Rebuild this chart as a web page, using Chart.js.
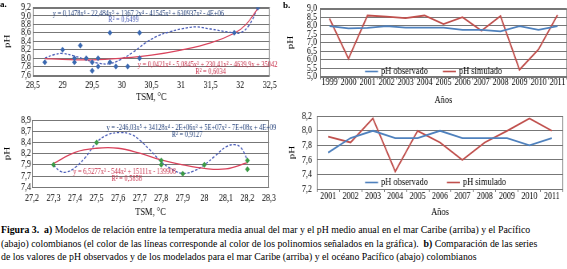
<!DOCTYPE html>
<html>
<head>
<meta charset="utf-8">
<script src="https://cdn.jsdelivr.net/npm/chart.js@4.4.0/dist/chart.umd.min.js"></script>
<style>
body { margin: 0; background: #fff; width: 567px; height: 269px; overflow: hidden; position: relative; font-family: "Liberation Serif", serif; }
.box { position: absolute; transform-origin: 0 0; }
canvas { display: block; }
.tag { position: absolute; font-weight: bold; font-size: 9px; }
#cap { position: absolute; left: 1px; top: 223px; font-size: 9.8px; line-height: 13.5px; white-space: nowrap; color: #000; }
</style>
</head>
<body>
<div class="box" id="b1" style="left:0;top:0"><canvas id="c1"></canvas></div>
<div class="box" id="b2" style="left:280px;top:0"><canvas id="c2"></canvas></div>
<div class="box" id="b3" style="left:0;top:105px"><canvas id="c3"></canvas></div>
<div class="box" id="b4" style="left:280px;top:105px"><canvas id="c4"></canvas></div>
<div class="tag" style="left:0;top:-1px">a.</div>
<div class="tag" style="left:283px;top:0">b.</div>
<div id="cap"><b>Figura 3.</b>&nbsp; <b>a)</b> Modelos de relación entre la temperatura media anual del mar y el pH medio anual en el mar Caribe (arriba) y el Pacífico<br>(abajo) colombianos (el color de las líneas corresponde al color de los polinomios señalados en la gráfica).&nbsp; <b>b)</b> Comparación de las series<br>de los valores de pH observados y de los modelados para el mar Caribe (arriba) y el océano Pacífico (abajo) colombianos</div>

<script>
// Caribe: TSM vs pH (scatter) and the two fitted curves
var caribeTsm = [28.7, 29.0, 29.2, 29.2, 29.3, 29.4, 29.5, 29.5, 29.6, 29.6, 29.8, 29.8, 29.9, 30.1, 30.3, 30.3, 31.9, 32.3];
var caribePh  = [7.9, 8.2, 7.9, 8.0, 8.3, 8.0, 7.9, 7.7, 8.0, 7.8, 8.6, 7.9, 7.8, 7.8, 8.6, 8.0, 8.6, 9.2];
var caribePoly4X = [28.7, 29.0, 29.5, 30.0, 30.5, 31.0, 31.5, 31.9, 32.1, 32.3];
var caribePoly4Y = [7.99, 7.97, 7.96, 8.0, 8.07, 8.19, 8.36, 8.59, 8.8, 9.18];
var caribePoly6X = [28.7, 28.85, 29.0, 29.2, 29.4, 29.6, 29.8, 30.0, 30.2, 30.4, 30.6, 30.8, 31.0, 31.25, 31.5, 31.8, 32.0, 32.15, 32.3];
var caribePoly6Y = [8.0, 8.08, 8.11, 8.05, 7.96, 7.88, 7.87, 7.98, 8.15, 8.36, 8.52, 8.62, 8.69, 8.74, 8.69, 8.62, 8.6, 8.78, 9.2];

// Pacifico
var pacTsm = [27.3, 27.5, 27.8, 27.8, 27.9, 28.0, 28.2, 28.2];
var pacPh  = [7.9, 8.4, 8.0, 7.9, 7.7, 7.9, 8.0, 7.8];
var pacPoly3X = [27.3, 27.4, 27.5, 27.6, 27.7, 27.8, 27.9, 28.0, 28.1, 28.2];
var pacPoly3Y = [7.93, 8.18, 8.27, 8.27, 8.16, 8.01, 7.9, 7.82, 7.81, 7.95];
var pacPoly5X = [27.3, 27.33, 27.36, 27.4, 27.45, 27.5, 27.55, 27.61, 27.66, 27.7, 27.75, 27.8, 27.85, 27.9, 27.95, 28.0, 28.05, 28.1, 28.14, 28.17, 28.2];
var pacPoly5Y = [7.9, 7.76, 7.74, 7.84, 8.08, 8.4, 8.57, 8.62, 8.58, 8.45, 8.22, 7.97, 7.8, 7.71, 7.76, 7.9, 8.1, 8.3, 8.35, 8.28, 8.01];
var pacYTicks  = [7.4, 7.65, 7.9, 8.15, 8.4, 8.65, 8.9];
var pacYLabels = ['7,4', '7,7', '7,9', '8,2', '8,4', '8,7', '8,9'];

// b) series observed / simulated
var caribeYears = ['1999', '2000', '2001', '2002', '2003', '2004', '2005', '2006', '2007', '2008', '2009', '2010', '2011'];
var caribeObs = [7.97, 7.84, 7.87, 7.97, 7.88, 7.88, 7.88, 7.75, 7.75, 7.66, 7.97, 7.75, 7.97];
var caribeSim = [8.42, 6.05, 8.6, 8.53, 8.45, 8.6, 8.1, 8.5, 7.7, 8.57, 5.4, 6.6, 8.63];
var pacYears = ['2001', '2002', '2003', '2004', '2005', '2006', '2007', '2008', '2009', '2010', '2011'];
var pacObs = [7.7, 7.9, 8.0, 7.9, 7.9, 8.0, 7.9, 7.9, 7.9, 7.8, 7.9];
var pacSim = [7.92, 7.84, 8.17, 7.44, 8.0, 7.84, 7.6, 7.84, 8.0, 8.17, 8.0];

Chart.defaults.font.family = '"Liberation Serif", "Times New Roman", serif';
Chart.defaults.font.size = 10;
Chart.defaults.color = '#000';
Chart.defaults.animation = false;

// the printed figure is squeezed sideways: draw wider, then scale the box back
var SQ = 0.8;
var GRID = '#777777';
var BLUE = '#4f81bd', RED = '#c0504d';

function xy(xs, ys) { return xs.map(function (x, i) { return { x: x, y: ys[i] }; }); }
function comma(v) { return String(Math.round(v * 100) / 100).replace('.', ','); }

function setup(id, f) {
  var cv = document.getElementById('c' + id);
  cv.width = Math.round(f.w / SQ);
  cv.height = f.h;
  document.getElementById('b' + id).style.transform = 'scaleX(' + SQ + ')';
  return {
    cv: cv,
    padding: { left: 0, top: f.top, right: cv.width - f.right / SQ, bottom: 0 },
    yWidth: f.left / SQ
  };
}

// border round the plot area
var boxPlugin = {
  id: 'plotBox',
  beforeDatasetsDraw: function (chart) {
    var a = chart.chartArea, ctx = chart.ctx;
    ctx.save();
    ctx.strokeStyle = GRID;
    ctx.lineWidth = 1;
    ctx.strokeRect(Math.round(a.left) + 0.5, Math.round(a.top) + 0.5, Math.round(a.right - a.left) - 1, Math.round(a.bottom - a.top));
    ctx.restore();
  }
};

// equations written on the scatter plots
var notesPlugin = {
  id: 'notes',
  afterDraw: function (chart, args, o) {
    if (!o.items) return;
    var ctx = chart.ctx, sx = chart.scales.x, sy = chart.scales.y;
    ctx.save();
    ctx.font = '8px "Liberation Serif"';
    ctx.textAlign = 'center';
    ctx.textBaseline = 'middle';
    o.items.forEach(function (n) {
      ctx.fillStyle = n.color;
      ctx.fillText(n.text, sx.getPixelForValue(n.x), sy.getPixelForValue(n.y));
    });
    ctx.restore();
  }
};

// legend drawn inside the plot, like the Excel one
var legendPlugin = {
  id: 'inLegend',
  afterDraw: function (chart, args, o) {
    if (!o.at) return;
    var ctx = chart.ctx, sx = chart.scales.x, sy = chart.scales.y;
    var y = Math.round(sy.getPixelForValue(o.y)) + 0.5;
    ctx.save();
    ctx.font = '10.5px "Liberation Serif"';
    ctx.textBaseline = 'middle';
    chart.data.datasets.forEach(function (d, i) {
      var x0 = sx.getPixelForValue(o.at[i]);
      ctx.strokeStyle = d.borderColor;
      ctx.lineWidth = 1.6;
      ctx.beginPath(); ctx.moveTo(x0, y); ctx.lineTo(x0 + 13 / SQ, y); ctx.stroke();
      ctx.fillStyle = '#000';
      ctx.fillText(d.label, x0 + 16 / SQ, y);
    });
    ctx.restore();
  }
};

Chart.register(boxPlugin, notesPlugin, legendPlugin);

function yTitle(pad) { return { display: true, text: 'pH', font: { size: 11 }, padding: { top: pad / SQ, bottom: 0 } }; }
function xTitle(text, pad) { return { display: true, text: text, font: { size: 10.5 }, padding: { top: 0, bottom: pad } }; }
function yTickLabel(v) { return v.toFixed(1).replace('.', ','); }

function scatterChart(id, f, pts, fit1, fit2, color, xr, yr, notes) {
  var s = setup(id, f);
  var yTicks = { padding: f.yPad / SQ, autoSkip: false, font: { size: 10, lineHeight: 1 } };
  if (yr[3]) {
    yTicks.callback = function (v, i) { return yr[4][i]; };
  } else {
    yTicks.stepSize = yr[2];
    yTicks.callback = yTickLabel;
  }
  return new Chart(s.cv, {
    type: 'scatter',
    data: {
      datasets: [
        { data: pts, pointStyle: 'rectRot', pointRadius: 3, pointBackgroundColor: color, pointBorderColor: color, borderWidth: 0, order: 0 },
        { type: 'line', data: fit1, showLine: true, borderColor: '#d9435c', borderWidth: 1.3, pointRadius: 0, tension: 0.4, fill: false, order: 1 },
        { type: 'line', data: fit2, showLine: true, borderColor: '#4a5db8', borderWidth: 1.3, borderDash: [3, 2], pointRadius: 0, tension: 0.4, fill: false, order: 2 }
      ]
    },
    options: {
      responsive: false,
      layout: { padding: s.padding },
      plugins: { legend: { display: false }, tooltip: { enabled: false }, notes: { items: notes } },
      scales: {
        x: {
          type: 'linear', min: xr[0], max: xr[1],
          ticks: { stepSize: xr[2], padding: f.xPad, callback: comma, autoSkip: false, maxRotation: 0 },
          grid: { drawOnChartArea: false, drawTicks: false },
          border: { display: false },
          title: xTitle('TSM, °C', f.xTitlePad),
          afterFit: function (sc) { sc.height = f.h - f.bottom; }
        },
        y: {
          min: yr[0], max: yr[1],
          ticks: yTicks,
          afterBuildTicks: yr[3] ? function (sc) { sc.ticks = yr[3].map(function (v) { return { value: v }; }); } : undefined,
          grid: { color: GRID, drawTicks: false },
          border: { display: false },
          title: yTitle(f.yTitlePad),
          afterFit: function (sc) { sc.width = s.yWidth; }
        }
      }
    }
  });
}

function lineChart(id, f, years, obs, sim, yr, leg) {
  var s = setup(id, f);
  return new Chart(s.cv, {
    type: 'line',
    data: {
      labels: years,
      datasets: [
        { label: 'pH observado', data: obs, borderColor: BLUE, borderWidth: 1.8, pointRadius: 0, tension: 0 },
        { label: 'pH simulado', data: sim, borderColor: RED, borderWidth: 1.8, pointRadius: 0, tension: 0 }
      ]
    },
    options: {
      responsive: false,
      layout: { padding: s.padding },
      plugins: { legend: { display: false }, tooltip: { enabled: false }, inLegend: leg },
      scales: {
        x: {
          offset: true,
          ticks: { padding: f.xPad, autoSkip: false, maxRotation: 0 },
          grid: { offset: true, drawOnChartArea: false, tickLength: 3, color: GRID },
          border: { display: false },
          title: xTitle('Años', f.xTitlePad),
          afterFit: function (sc) { sc.height = f.h - f.bottom; }
        },
        y: {
          min: yr[0], max: yr[1],
          ticks: { stepSize: yr[2], padding: f.yPad / SQ, autoSkip: false, font: { size: 10, lineHeight: 1 }, callback: yTickLabel },
          grid: { color: GRID, drawTicks: false },
          border: { display: false },
          title: yTitle(f.yTitlePad),
          afterFit: function (sc) { sc.width = s.yWidth; }
        }
      }
    }
  });
}

scatterChart(1,
  { w: 280, h: 105, left: 33, top: 7, right: 273, bottom: 75, xPad: 4, yPad: 2, xTitlePad: 1, yTitlePad: 2 },
  xy(caribeTsm, caribePh), xy(caribePoly4X, caribePoly4Y), xy(caribePoly6X, caribePoly6Y),
  '#3a68b0', [28.5, 32.5, 0.5], [7.6, 9.2, 0.2],
  [
    { text: 'y = 0,1478x⁶ - 22,484x⁵ + 1367,2x⁴ - 41545x³ + 630937x² - 4E+06', x: 30.28, y: 9.06, color: '#23407a' },
    { text: 'R² = 0,6499', x: 30.03, y: 8.91, color: '#4a5db8' },
    { text: 'y = 0,0421x⁴ - 5,0845x³ + 230,41x² - 4639,9x + 35042', x: 31.45, y: 7.85, color: '#c8304a' },
    { text: 'R² = 0,6034', x: 31.5, y: 7.68, color: '#c8304a' }
  ]);

lineChart(2,
  { w: 287, h: 105, left: 40, top: 6, right: 287, bottom: 76.5, xPad: -3, yPad: 3, xTitlePad: -2, yTitlePad: 5 },
  caribeYears, caribeObs, caribeSim, [5.0, 9.0, 0.5], { at: [1.87, 5.97], y: 5.34 });

scatterChart(3,
  { w: 280, h: 115, left: 32, top: 15, right: 275, bottom: 82.3, xPad: 5, yPad: 1, xTitlePad: 1, yTitlePad: 2 },
  xy(pacTsm, pacPh), xy(pacPoly3X, pacPoly3Y), xy(pacPoly5X, pacPoly5Y),
  '#3c9a46', [27.2, 28.3, 0.1], [7.4, 8.9, 0.25, pacYTicks, pacYLabels],
  [
    { text: 'y = -246,03x⁵ + 34128x⁴ - 2E+06x³ + 5E+07x² - 7E+08x + 4E+09', x: 27.94, y: 8.72, color: '#23407a' },
    { text: 'R² = 0,9127', x: 27.92, y: 8.57, color: '#23407a' },
    { text: 'y = 6,5277x³ - 544x² + 15111x - 139908', x: 27.63, y: 7.74, color: '#c8304a' },
    { text: 'R² = 0,5858', x: 27.64, y: 7.59, color: '#c8304a' }
  ]);

lineChart(4,
  { w: 287, h: 115, left: 37, top: 11, right: 283, bottom: 84, xPad: -2, yPad: 5, xTitlePad: 1, yTitlePad: 7 },
  pacYears, pacObs, pacSim, [7.2, 8.2, 0.2], { at: [1.65, 5.31], y: 7.3 });
</script>
</body>
</html>
